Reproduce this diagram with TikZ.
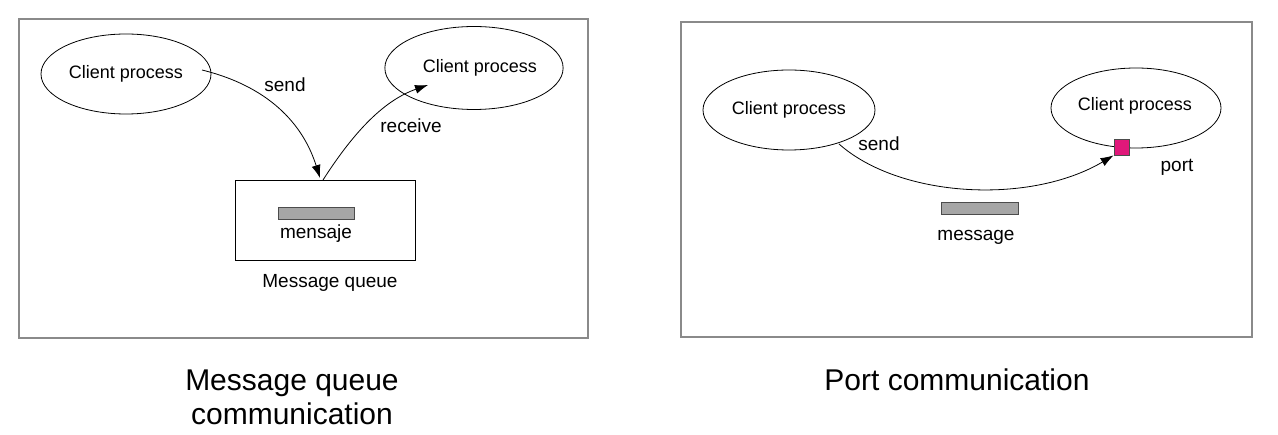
\documentclass[tikz,border=0pt]{standalone}
\usepackage{fontspec}
\setmainfont{Liberation Sans}
\usetikzlibrary{shapes.geometric,arrows.meta}
\definecolor{framegray}{HTML}{8A8A8A}
\definecolor{bargray}{HTML}{A6A6A6}
\definecolor{portpink}{HTML}{E0187A}
\tikzset{
  frame/.style={draw=framegray, line width=1.3pt},
  proc/.style={draw=black, line width=0.8pt, ellipse, minimum width=170pt, minimum height=80pt, inner sep=0pt, font=\fontsize{18}{20}\selectfont},
  lbl/.style={inner sep=0pt, font=\fontsize{19}{21}\selectfont},
  title/.style={inner sep=0pt, align=center, font=\fontsize{30}{34}\selectfont},
  msgbar/.style={draw=black!70, fill=bargray, line width=0.8pt, minimum width=76pt, minimum height=12pt, inner sep=0pt},
  flow/.style={draw=black, line width=0.8pt, -{Latex[length=13pt,width=9pt]}},
}
\begin{document}
\begin{tikzpicture}[x=1pt,y=-1pt]
\useasboundingbox (0,0) rectangle (1278,435);
% ---- left panel ----
\node[frame, minimum width=569pt, minimum height=319pt, inner sep=0pt] (lframe) at (303.5,178.5) {};
\node[proc] (lcp1) at (126,74) {\raisebox{-2pt}{Client process}};
\node[proc, minimum width=172pt, minimum height=83pt] (lcp2) at (474,68) {\hspace*{12pt}\raisebox{-2pt}{Client process}};
\node[draw=black, line width=0.8pt, minimum width=180pt, minimum height=80pt, inner sep=0pt] (queue) at (325,220) {};
\node[msgbar] (lbar) at (316,213) {};
\node[lbl] (mensaje) at (316,234) {mensaje};
\node[lbl] (mqlabel) at (330,283) {Message queue};
\coordinate (sendstart) at (202,70);
\coordinate (sendend) at (320,178);
\coordinate (recvstart) at (323,180);
\coordinate (recvend) at (428,85);
\draw[flow] (sendstart) .. controls (275,88) and (305,130) .. (sendend);
\draw[flow] (recvstart) .. controls (355,130) and (385,100) .. (recvend);
\node[lbl] (lsend) at (285,85) {send};
\node[lbl] (lrecv) at (411,126) {receive};
\node[title] (ltitle) at (292,397) {Message queue\\communication};
% ---- right panel ----
\node[frame, minimum width=571pt, minimum height=315pt, inner sep=0pt] (rframe) at (966.5,179.5) {};
\node[proc, minimum width=172pt] (rcp1) at (789,110) {\raisebox{-2pt}{Client process}};
\node[proc] (rcp2) at (1136,108) {};
\node[lbl, font=\fontsize{18}{20}\selectfont] (rcp2text) at (1135,106) {Client process};
\node[draw=black!70, fill=portpink, line width=0.8pt, minimum width=15pt, minimum height=16pt, inner sep=0pt] (port) at (1121.5,147) {};
\node[msgbar, minimum width=77pt] (rbar) at (979.5,208) {};
\node[lbl] (message) at (976,237) {message};
\node[lbl] (portlabel) at (1177,167) {port};
\coordinate (rsendstart) at (839,144);
\draw[flow] (rsendstart) .. controls (900,198) and (1030,205) .. (port.south west);
\node[lbl] (rsend) at (879,144) {send};
\node[title] (rtitle) at (957,380) {Port communication};
\end{tikzpicture}
\end{document}
